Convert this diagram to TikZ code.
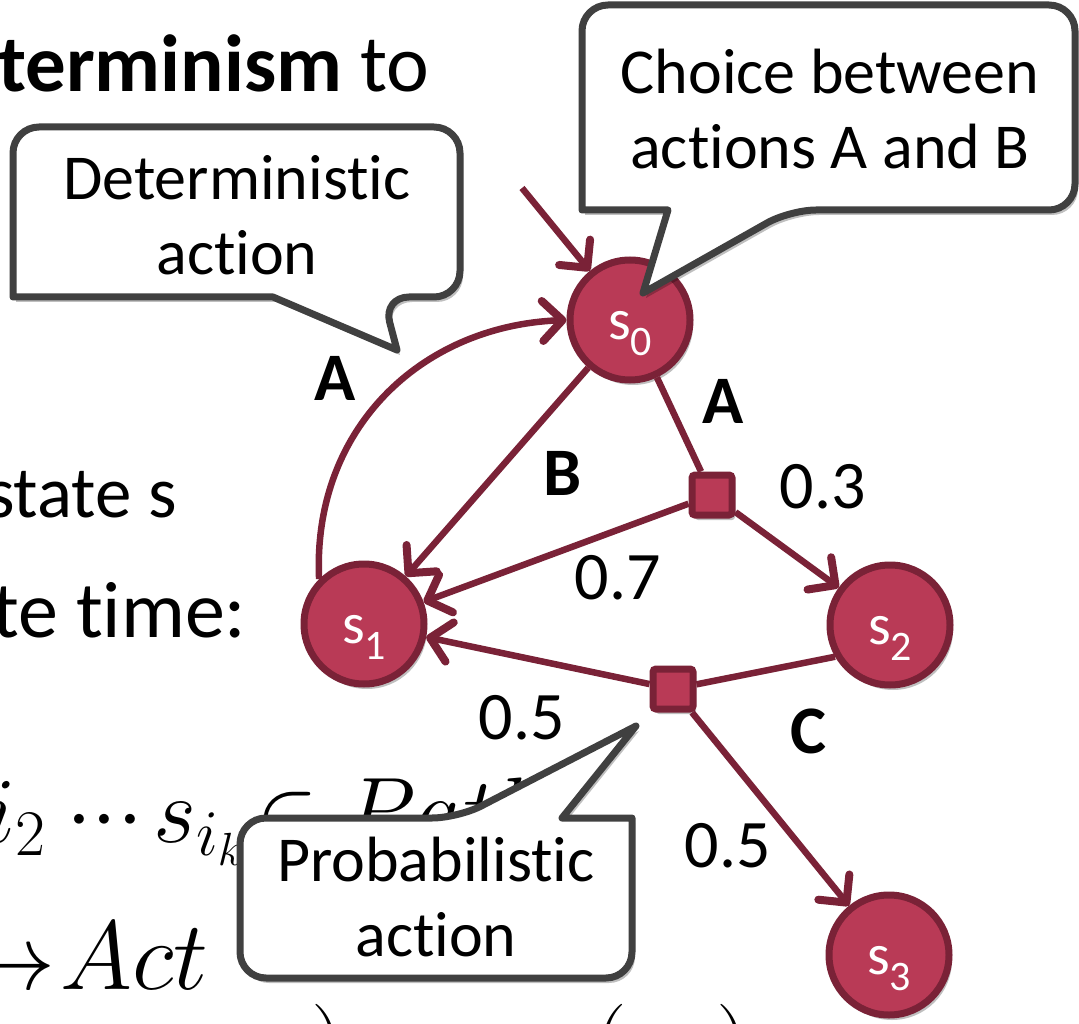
\RequirePackage{fix-cm}
\documentclass[tikz,border=0pt]{standalone}
\usepackage[no-math]{fontspec}
\setmainfont{Carlito}[Ligatures={NoCommon}]
\usetikzlibrary{arrows.meta,shadows}
\definecolor{stfill}{HTML}{B93A56}
\definecolor{stline}{HTML}{7A2237}
\definecolor{cgray}{HTML}{404040}
\newcommand\nolig{\kern0pt }
\newcommand\stlab[1]{\rule{0pt}{55pt}\fontsize{58}{58}\selectfont s\raisebox{-16pt}{\fontsize{42}{42}\selectfont #1}}
\tikzset{
  myshadow/.style={drop shadow={shadow xshift=3pt,shadow yshift=-5pt,opacity=0.25,fill=black}},
  state/.style={circle, fill=stfill, draw=stline, line width=7pt, minimum size=120pt, inner sep=0pt, text=white, myshadow},
  dist/.style={rectangle, rounded corners=3pt, fill=stfill, draw=stline, line width=7pt, minimum size=40pt, inner sep=0pt, myshadow},
  edge/.style={draw=stline, line width=6.5pt, -{Straight Barb[length=20pt,width=40pt,line width=8pt 0,round]}},
  plain/.style={draw=stline, line width=6.5pt},
  lbl/.style={font=\fontsize{68}{68}\selectfont, inner sep=0pt},
  callout/.style={draw=cgray, fill=white, line width=7pt, line join=round, myshadow},
  ctext/.style={align=center, font=\fontsize{64}{75}\selectfont, inner sep=0pt},
  bigtext/.style={anchor=base west, inner sep=0pt},
  mathtext/.style={anchor=base west, inner sep=0pt, font=\fontsize{93}{93}\selectfont}
}
\begin{document}
\begin{tikzpicture}[x=1pt,y=-1pt]
\useasboundingbox (0,0) rectangle (1079,1024);
\clip (0,0) rectangle (1079,1024);
\fill[white] (0,0) rectangle (1079,1024);

% slide text behind the diagram
\node[bigtext, font=\fontsize{81}{81}\selectfont] (t1) at (-2,92) {\textbf{terminism} to};
\node[bigtext, font=\fontsize{73}{73}\selectfont] (t2) at (-14,517) {state s};
\node[bigtext, font=\fontsize{80}{80}\selectfont] (t3) at (-8,637) {te t\nolig ime:};
\node[mathtext] (m1a) at (-16,842) {$i_2$};
\node[mathtext] (m1b) at (66,842) {${\cdot}{\cdot}{\cdot}$};
\node[mathtext] (m1c) at (153,842) {$s_{i_k}$};
\node[mathtext] (m1d) at (256,842) {$\in Path$};
\node[mathtext] (m2a) at (-38,989) {$\rightarrow$};
\node[mathtext, font=\fontsize{98}{98}\selectfont] (m2b) at (60,989) {$Act$};
\node[anchor=base, inner sep=0pt, font=\fontsize{95}{95}\selectfont] (p1) at (328,1075) {$)$};
\node[anchor=base, inner sep=0pt, font=\fontsize{95}{95}\selectfont] (p2) at (610,1075) {$($};
\node[anchor=base, inner sep=0pt, font=\fontsize{95}{95}\selectfont] (p3) at (733,1075) {$)$};

% states
\node[state] (s0) at (630,320) {\stlab{0}};
\node[state] (s1) at (364,624) {\stlab{1}};
\node[state] (s2) at (890,625) {\stlab{2}};
\node[state] (s3) at (889,955) {\stlab{3}};
\node[dist] (d1) at (712,495) {};
\node[dist] (d2) at (673,689) {};
\coordinate (init) at (522,188);

% edges
\draw[edge] (init) -- (s0);
\draw[edge] (s0) -- (s1);
\draw[edge] (s1.135) .. controls (312,430) and (420,326) .. (s0.180);
\draw[plain] (s0) -- (d1);
\draw[edge] (d1) -- (s2);
\draw[edge] (d1) -- (s1);
\draw[plain] (s2.210) -- (d2);
\draw[edge] (d2) -- (s1);
\draw[edge] (d2) -- (s3);

% labels
\node[lbl] (lA1) at (335,378) {\textbf{A}};
\node[lbl] (lB) at (563,473) {\textbf{B}};
\node[lbl] (lA2) at (723,401) {\textbf{A}};
\node[lbl] (l03) at (823,487) {0.3};
\node[lbl] (l07) at (618,578) {0.7};
\node[lbl] (l05a) at (522,718) {0.5};
\node[lbl] (lC) at (808,731) {\textbf{C}};
\node[lbl] (l05b) at (728,846) {0.5};

% callouts
\draw[callout] (230,127) [rounded corners=26pt] -- (460,127) -- (460,297) -- (383,297) [sharp corners] -- (397,350) -- (273,297) -- (13,297) [rounded corners=26pt] -- (13,127) -- cycle;
\node[ctext] (dt) at (237,215) {Determinist\nolig ic\\act\nolig ion};

\draw[callout] (830,5) [rounded corners=26pt] -- (1075,5) -- (1075,210) -- (790,210) [sharp corners] -- (643,293) -- (668,210) -- (582,210) [rounded corners=26pt] -- (582,5) -- cycle;
\node[ctext] (ct) at (830,109) {Choice between\\act\nolig ions A and B};

\draw[callout] (436,978) [rounded corners=26pt] -- (240,978) -- (240,818) -- (458,818) [sharp corners] -- (636,726) -- (562,818) -- (632,818) [rounded corners=26pt] -- (632,978) -- cycle;
\node[ctext] (pt) at (436,897) {Probabilist\nolig ic\\act\nolig ion};
\end{tikzpicture}
\end{document}
